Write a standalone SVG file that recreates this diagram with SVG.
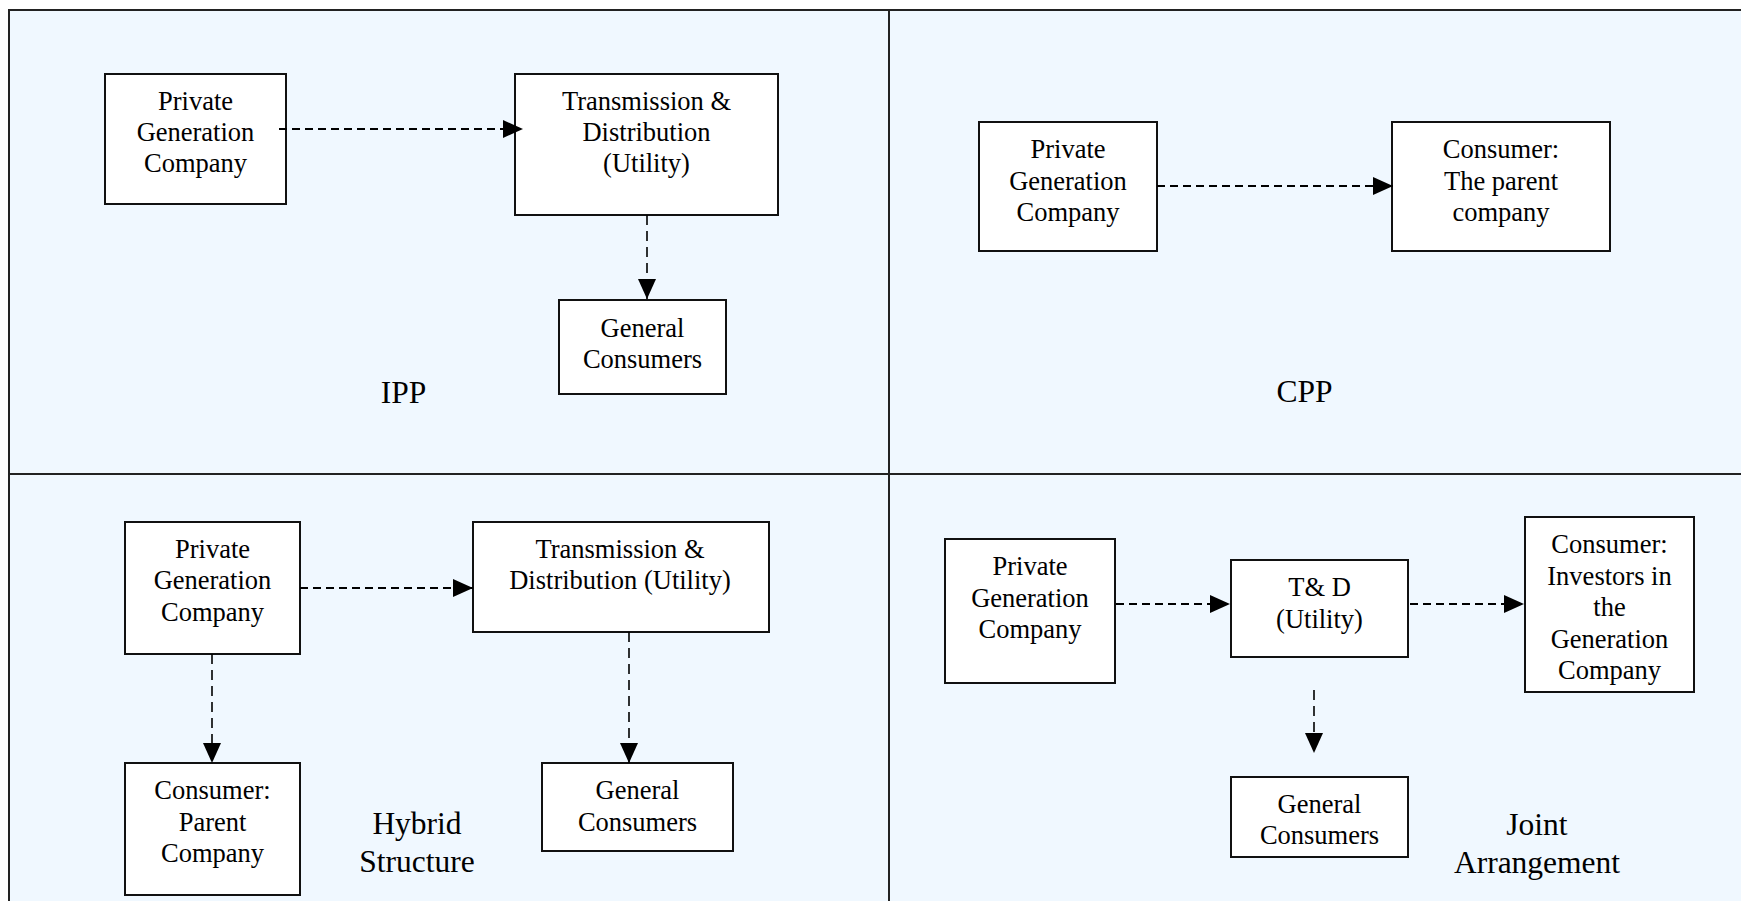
<svg xmlns="http://www.w3.org/2000/svg" width="1741" height="901" viewBox="0 0 1741 901">
<defs>
<style>
.bg{fill:#F0F8FF;stroke:#222;stroke-width:2}
.div{stroke:#222;stroke-width:2;fill:none}
.box{fill:#fff;stroke:#111;stroke-width:2}
.t{font-family:"Liberation Serif","Times New Roman",serif;font-size:26.5px;fill:#000;text-anchor:middle}
.lbl{font-family:"Liberation Serif","Times New Roman",serif;font-size:31.5px;fill:#000;text-anchor:middle}
.h{stroke:#000;stroke-width:2;stroke-dasharray:8 5;fill:none;marker-end:url(#ah)}
.v{stroke:#000;stroke-width:1.6;stroke-dasharray:10 6;fill:none;marker-end:url(#ah)}
</style>
<marker id="ah" markerUnits="userSpaceOnUse" markerWidth="20" markerHeight="18" refX="20" refY="9" orient="auto" viewBox="0 0 20 18">
<path d="M0,0 L20,9 L0,18 z" fill="#000"/>
</marker>
</defs>
<rect x="0" y="0" width="1741" height="901" fill="#fff"/>
<g id="frame">
<rect class="bg" x="9" y="10" width="1800" height="1000"/>
<line class="div" x1="889" y1="10" x2="889" y2="901"/>
<line class="div" x1="9" y1="474" x2="1741" y2="474"/>
</g>
<g id="ipp-pgc"><rect class="box" x="105" y="74" width="181" height="130"/>
<text class="t" x="195.5" y="110">Private</text><text class="t" x="195.5" y="141">Generation</text><text class="t" x="195.5" y="172">Company</text></g>
<g id="ipp-td"><rect class="box" x="515" y="74" width="263" height="141"/>
<text class="t" x="646.5" y="110">Transmission &amp;</text><text class="t" x="646.5" y="141">Distribution</text><text class="t" x="646.5" y="172">(Utility)</text></g>
<g id="ipp-gc"><rect class="box" x="559" y="300" width="167" height="94"/>
<text class="t" x="642.5" y="337">General</text><text class="t" x="642.5" y="368">Consumers</text></g>
<g id="ipp-label"><text class="lbl" x="403.5" y="403">IPP</text></g>

<g id="cpp-pgc"><rect class="box" x="979" y="122" width="178" height="129"/>
<text class="t" x="1068" y="158">Private</text><text class="t" x="1068" y="190">Generation</text><text class="t" x="1068" y="221">Company</text></g>
<g id="cpp-consumer"><rect class="box" x="1392" y="122" width="218" height="129"/>
<text class="t" x="1501" y="158">Consumer:</text><text class="t" x="1501" y="190">The parent</text><text class="t" x="1501" y="221">company</text></g>
<g id="cpp-label"><text class="lbl" x="1304.5" y="402">CPP</text></g>

<g id="hyb-pgc"><rect class="box" x="125" y="522" width="175" height="132"/>
<text class="t" x="212.5" y="558">Private</text><text class="t" x="212.5" y="589">Generation</text><text class="t" x="212.5" y="621">Company</text></g>
<g id="hyb-td"><rect class="box" x="473" y="522" width="296" height="110"/>
<text class="t" x="620" y="558">Transmission &amp;</text><text class="t" x="620" y="589">Distribution (Utility)</text></g>
<g id="hyb-consumer"><rect class="box" x="125" y="763" width="175" height="132"/>
<text class="t" x="212.5" y="799">Consumer:</text><text class="t" x="212.5" y="831">Parent</text><text class="t" x="212.5" y="862">Company</text></g>
<g id="hyb-gc"><rect class="box" x="542" y="763" width="191" height="88"/>
<text class="t" x="637.5" y="799">General</text><text class="t" x="637.5" y="831">Consumers</text></g>
<g id="hyb-label"><text class="lbl" x="417" y="834">Hybrid</text><text class="lbl" x="417" y="872">Structure</text></g>

<g id="ja-pgc"><rect class="box" x="945" y="539" width="170" height="144"/>
<text class="t" x="1030" y="575">Private</text><text class="t" x="1030" y="607">Generation</text><text class="t" x="1030" y="638">Company</text></g>
<g id="ja-td"><rect class="box" x="1231" y="560" width="177" height="97"/>
<text class="t" x="1319.5" y="596">T&amp; D</text><text class="t" x="1319.5" y="628">(Utility)</text></g>
<g id="ja-consumer"><rect class="box" x="1525" y="517" width="169" height="175"/>
<text class="t" x="1609.5" y="553">Consumer:</text><text class="t" x="1609.5" y="585">Investors in</text><text class="t" x="1609.5" y="616">the</text><text class="t" x="1609.5" y="648">Generation</text><text class="t" x="1609.5" y="679">Company</text></g>
<g id="ja-gc"><rect class="box" x="1231" y="777" width="177" height="80"/>
<text class="t" x="1319.5" y="813">General</text><text class="t" x="1319.5" y="844">Consumers</text></g>
<g id="ja-label"><text class="lbl" x="1537" y="835">Joint</text><text class="lbl" x="1537" y="873">Arrangement</text></g>

<g id="connectors">
<line class="h" x1="279" y1="129" x2="523" y2="129"/>
<line class="v" x1="647" y1="215" x2="647" y2="299"/>
<line class="h" x1="1157" y1="186" x2="1393" y2="186"/>
<line class="h" x1="300" y1="588" x2="473" y2="588"/>
<line class="v" x1="212" y1="654" x2="212" y2="763"/>
<line class="v" x1="629" y1="632" x2="629" y2="763"/>
<line class="h" x1="1116" y1="604" x2="1230" y2="604"/>
<line class="h" x1="1410" y1="604" x2="1524" y2="604"/>
<line class="v" x1="1314" y1="690" x2="1314" y2="753"/>
</g>
</svg>
